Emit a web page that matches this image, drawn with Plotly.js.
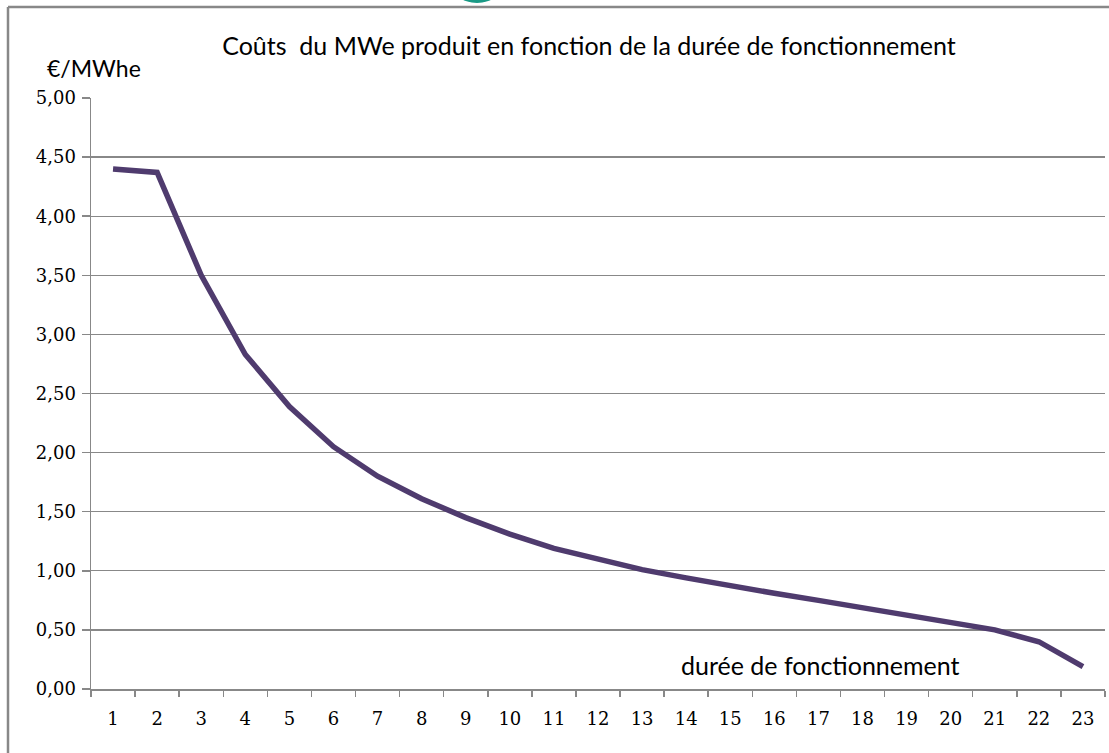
<!DOCTYPE html>
<html><head><meta charset="utf-8">
<script src="https://cdn.plot.ly/plotly-3.0.1.min.js"></script>
<style>html,body{margin:0;padding:0;background:#fff}#chart{width:1109px;height:753px}</style>
</head><body><div id="chart"></div>
<script>
const categories = ["1","2","3","4","5","6","7","8","9","10","11","12","13","14","15","16","17","18","19","20","21","22","23"];
const costs = [4.40,4.37,3.50,2.83,2.39,2.05,1.80,1.61,1.45,1.31,1.19,1.10,1.01,0.94,0.87,0.81,0.75,0.69,0.63,0.57,0.50,0.40,0.19];
const yTicks = [0,0.5,1,1.5,2,2.5,3,3.5,4,4.5,5];

const W=1109,H=753,L=91,R=1105,T=98,B=689;
const px=x=>(x-L)/(R-L), py=y=>(B-y)/(B-T);

const trace = {x:categories,y:costs,type:'scatter',mode:'lines',
  line:{color:'#4f3b6e',width:5.5},hoverinfo:'skip'};

const layout = {
  width:W,height:H,margin:{l:L,r:W-R,t:T,b:H-B},
  paper_bgcolor:'#fff',plot_bgcolor:'#fff',showlegend:false,
  separators:',.',
  font:{family:'Liberation Serif, serif',color:'#000'},
  xaxis:{type:'category',tickson:'boundaries',ticks:'outside',ticklen:6,tickcolor:'#888',tickwidth:1.5,
    showline:true,linecolor:'#888',linewidth:1.5,showgrid:false,zeroline:false,
    tickfont:{family:'DejaVu Serif, serif',size:18,color:'#000'},ticklabelstandoff:13,
    range:[-0.5,22.5]},
  yaxis:{range:[0,5],tickvals:yTicks,tickformat:'.2f',ticks:'outside',ticklen:8,tickcolor:'#888',tickwidth:1.5,
    showline:true,linecolor:'#888',linewidth:1.5,showgrid:true,gridcolor:'#888',gridwidth:1.3,zeroline:false,
    tickfont:{family:'DejaVu Serif, serif',size:18,color:'#000'},ticklabelstandoff:2},
  title:{text:'Coûts&nbsp; du MWe produit en fonction de la durée de fonctionnement',
    font:{family:'Lato, Open Sans, sans-serif',size:25,color:'#000'},
    x:px(589),xref:'paper',xanchor:'center',y:1-46/H,yanchor:'middle'},
  annotations:[
    {text:'€/MWhe',xref:'paper',yref:'paper',x:px(45),y:py(68),xanchor:'left',yanchor:'middle',showarrow:false,
      font:{family:'Lato, Open Sans, sans-serif',size:23,color:'#000'}},
    {text:'durée de fonctionnement',xref:'paper',yref:'paper',x:px(962),y:py(665),xanchor:'right',yanchor:'middle',showarrow:false,
      font:{family:'Lato, Open Sans, sans-serif',size:25,color:'#000'}}
  ],
  shapes:[
    {type:'line',xref:'paper',yref:'paper',x0:px(8),x1:px(8),y0:py(7),y1:py(760),line:{color:'#888',width:2.5}},
    {type:'line',xref:'paper',yref:'paper',x0:px(8),x1:px(1115),y0:py(7),y1:py(7),line:{color:'#888',width:2.5}},
    {type:'circle',xref:'paper',yref:'paper',x0:px(450),x1:px(504),y0:py(3),y1:py(-40),fillcolor:'#1a9a86',line:{width:0},layer:'above'}
  ]
};
Plotly.newPlot('chart',[trace],layout,{displayModeBar:false,staticPlot:true});
</script></body></html>
